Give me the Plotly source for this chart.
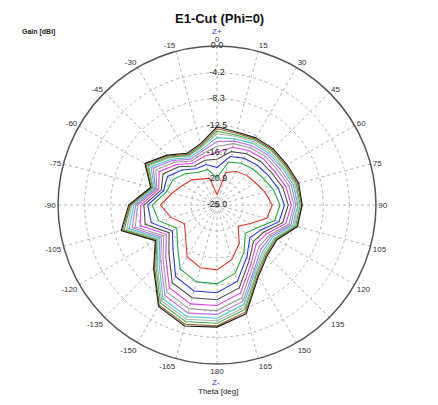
import plotly.graph_objects as go

theta = [0, 15, 30, 45, 60, 75, 90, 105, 120, 135, 150, 165,
         180, 195, 210, 225, 240, 255, 270, 285, 300, 315, 330, 345]

g01 = [-23.4, -19.7, -18.9, -18.4, -18.0, -17.2, -16.3, -16.9, -19.1, -20.3, -18.0, -16.1, -14.8, -14.8, -15.6, -18.0, -19.1, -17.5, -16.1, -17.7, -18.8, -19.4, -20.3, -20.6]
g02 = [-20.7, -18.0, -17.4, -17.0, -16.6, -15.8, -15.1, -15.6, -17.8, -18.7, -16.5, -13.9, -12.6, -12.5, -13.4, -16.2, -17.7, -15.5, -14.8, -16.8, -17.0, -18.0, -19.1, -19.2]
g03 = [-19.1, -17.1, -16.5, -16.1, -15.7, -15.0, -14.4, -14.9, -17.1, -17.7, -15.6, -12.6, -11.2, -11.0, -12.0, -15.2, -16.9, -14.3, -14.1, -16.3, -16.0, -17.2, -18.4, -18.4]
g04 = [-17.8, -16.3, -15.7, -15.3, -15.0, -14.3, -13.8, -14.3, -16.5, -16.9, -14.9, -11.5, -10.1, -9.9, -10.9, -14.3, -16.3, -13.3, -13.5, -15.9, -15.2, -16.5, -17.9, -17.7]
g05 = [-16.7, -15.6, -15.1, -14.7, -14.5, -13.8, -13.3, -13.8, -16.0, -16.3, -14.3, -10.7, -9.2, -8.9, -10.0, -13.6, -15.8, -12.5, -13.0, -15.5, -14.5, -16.0, -17.4, -17.1]
g06 = [-15.8, -15.0, -14.6, -14.2, -14.0, -13.3, -12.9, -13.3, -15.5, -15.7, -13.8, -9.9, -8.4, -8.1, -9.2, -13.0, -15.3, -11.7, -12.5, -15.2, -13.9, -15.5, -17.0, -16.6]
g07 = [-15.0, -14.6, -14.2, -13.8, -13.6, -12.9, -12.6, -13.0, -15.2, -15.2, -13.3, -9.3, -7.8, -7.4, -8.6, -12.5, -14.9, -11.2, -12.2, -15.0, -13.4, -15.1, -16.7, -16.2]
g08 = [-14.4, -14.2, -13.8, -13.5, -13.2, -12.6, -12.3, -12.7, -14.9, -14.8, -13.0, -8.8, -7.2, -6.8, -8.0, -12.1, -14.6, -10.7, -11.9, -14.8, -13.0, -14.8, -16.4, -15.9]
g09 = [-13.8, -13.8, -13.5, -13.2, -13.0, -12.3, -12.1, -12.4, -14.6, -14.5, -12.7, -8.3, -6.8, -6.4, -7.6, -11.7, -14.3, -10.3, -11.6, -14.6, -12.6, -14.5, -16.1, -15.6]
g10 = [-13.4, -13.6, -13.2, -12.9, -12.7, -12.1, -11.9, -12.2, -14.4, -14.2, -12.5, -8.0, -6.4, -6.0, -7.2, -11.4, -14.1, -9.9, -11.4, -14.5, -12.4, -14.3, -16.0, -15.4]
g11 = [-13.0, -13.3, -13.0, -12.7, -12.5, -11.9, -11.7, -12.0, -14.2, -14.0, -12.2, -7.6, -6.0, -5.6, -6.8, -11.1, -13.9, -9.6, -11.3, -14.3, -12.1, -14.1, -15.8, -15.2]
g12 = [-12.7, -13.1, -12.8, -12.5, -12.3, -11.7, -11.6, -11.9, -14.1, -13.8, -12.0, -7.3, -5.8, -5.3, -6.6, -10.9, -13.8, -9.4, -11.1, -14.2, -11.9, -13.9, -15.6, -15.0]

series = [g01, g02, g03, g04, g05, g06, g07, g08, g09, g10, g11, g12]
colors = ["#e8302c", "#22a646", "#2a36e0", "#4a4a4a", "#e040e0", "#9a9a9a",
          "#c070e8", "#40c8c8", "#b0b0b0", "#3cb04c", "#a0602c", "#1a1a1a"]

r_tickvals = [0.0, -4.2, -8.3, -12.5, -16.7, -20.9, -25.0]
r_ticktext = ["0.0", "-4.2", "-8.3", "-12.5", "-16.7", "-20.9", "-25.0"]

a_tickvals = list(range(0, 360, 15))
a_ticktext = ["0", "15", "30", "45", "60", "75", "90", "105", "120", "135", "150", "165",
              "180", "-165", "-150", "-135", "-120", "-105", "-90", "-75", "-60", "-45", "-30", "-15"]

fig = go.Figure()
for vals, col in zip(series, colors):
    fig.add_trace(go.Scatterpolar(
        r=vals + vals[:1], theta=theta + theta[:1], mode="lines",
        line=dict(color=col, width=1.1), showlegend=False, hoverinfo="skip"))

fig.add_trace(go.Scatterpolar(
    r=r_tickvals, theta=[0] * len(r_tickvals), mode="text", text=r_ticktext,
    textfont=dict(family="Liberation Sans, Arial", size=9, color="#222222"),
    textposition="middle center", showlegend=False, hoverinfo="skip"))

font = "Liberation Sans, Arial"
fig.update_layout(
    width=438, height=405,
    margin=dict(l=0, r=0, t=0, b=0),
    paper_bgcolor="white",
    plot_bgcolor="white",
    polar=dict(
        domain=dict(x=[0.1142, 0.8402], y=[0.121, 0.906]),
        bgcolor="white",
        radialaxis=dict(range=[-25, 0], tickvals=r_tickvals, showticklabels=False,
                        ticks="", showline=False, angle=90,
                        gridcolor="#b4b4b4", griddash="dot", gridwidth=1),
        angularaxis=dict(rotation=90, direction="clockwise",
                         tickvals=a_tickvals, ticktext=a_ticktext, ticks="",
                         tickfont=dict(family=font, size=8, color="#333333"),
                         showline=True, linecolor="#555555", linewidth=1.5,
                         gridcolor="#b4b4b4", griddash="dot", gridwidth=1),
    ),
    annotations=[
        dict(text="<b>E1-Cut (Phi=0)</b>", x=0.484, y=0.975, xref="paper", yref="paper",
             xanchor="center", yanchor="middle",
             showarrow=False, font=dict(family=font, size=13, color="#111111")),
        dict(text="<b>Gain [dBi]</b>", x=0.0274, y=0.941, xref="paper", yref="paper",
             xanchor="left", yanchor="middle",
             showarrow=False, font=dict(family=font, size=7, color="#222222")),
        dict(text="Z+", x=0.477, y=0.941, xref="paper", yref="paper",
             xanchor="center", yanchor="middle",
             showarrow=False, font=dict(family=font, size=8, color="#3030e0")),
        dict(text="Z-", x=0.475, y=0.0765, xref="paper", yref="paper",
             xanchor="center", yanchor="middle",
             showarrow=False, font=dict(family=font, size=8, color="#3030e0")),
        dict(text="Theta [deg]", x=0.479, y=0.052, xref="paper", yref="paper",
             xanchor="center", yanchor="middle",
             showarrow=False, font=dict(family=font, size=8, color="#222222")),
    ],
)

fig.write_html("out.html")
